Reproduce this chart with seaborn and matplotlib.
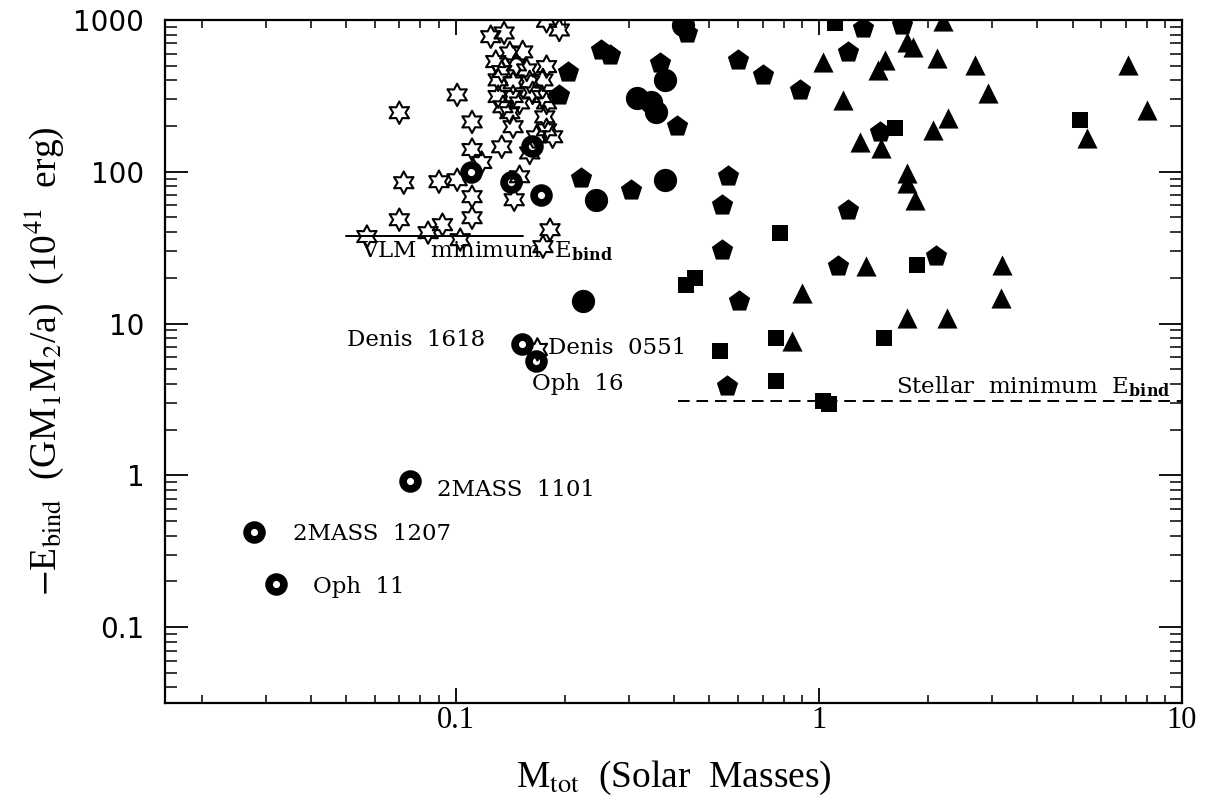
import matplotlib
matplotlib.use("Agg")
import matplotlib.pyplot as plt
from matplotlib.path import Path
from matplotlib.ticker import FixedLocator, FixedFormatter, LogLocator, NullFormatter
import seaborn as sns

# Very-low-mass binaries (open stars)
vlm_mass = [0.125, 0.136, 0.178, 0.193, 0.129, 0.141, 0.153, 0.134, 0.147, 0.157,
            0.178, 0.131, 0.144, 0.160, 0.174, 0.131, 0.144, 0.163, 0.173, 0.135,
            0.150, 0.178, 0.141, 0.144, 0.176, 0.178, 0.185, 0.134, 0.167, 0.160,
            0.101, 0.070, 0.111, 0.111, 0.118, 0.072, 0.090, 0.101, 0.111, 0.150,
            0.145, 0.070, 0.111, 0.092, 0.057, 0.084, 0.103, 0.182, 0.174, 0.168]
vlm_ebind = [776, 821, 980, 859, 532, 607, 616, 457, 506, 469,
             493, 403, 385, 391, 403, 313, 313, 331, 313, 268,
             284, 284, 245, 198, 230, 189, 170, 146, 170, 133,
             321, 245, 213, 140, 115, 84.7, 86, 88.6, 68.5, 92.7,
             65.4, 48.3, 49.8, 44.8, 37.4, 39.7, 35.7, 41.5, 32.1, 6.75]

# Young / wide systems (thick open rings)
young_mass = [0.110, 0.142, 0.172, 0.162, 0.152, 0.167, 0.0747, 0.0279, 0.0321]
young_ebind = [100, 86, 70.6, 147, 7.28, 5.65, 0.918, 0.42, 0.192]

# Stellar binaries by sample (filled symbols)
circ_mass = [0.377, 0.315, 0.346, 0.357, 0.377, 0.244, 0.224, 0.422]
circ_ebind = [403, 305, 290, 249, 88.6, 65.4, 14.0, 927]

pent_mass = [0.204, 0.193, 0.252, 0.266, 0.365, 0.433, 0.406, 0.599, 0.703, 0.887,
             1.20, 0.222, 0.305, 0.563, 0.540, 0.540, 1.13, 1.20, 1.32, 1.69,
             1.47, 2.10, 0.602, 0.558]
pent_ebind = [457, 321, 635, 588, 521, 818, 199, 546, 435, 346,
              619, 90.9, 76.1, 93.1, 60.7, 30.7, 23.8, 56.2, 882, 927,
              184, 27.7, 14.0, 3.87]

sq_mass = [1.107, 1.62, 5.24, 1.86, 0.78, 0.457, 0.432, 0.761, 1.513, 0.533,
           0.761, 1.03, 1.07]
sq_ebind = [960, 194, 220, 24.4, 39.6, 20, 18, 8.05, 8.05, 6.57,
            4.17, 3.1, 2.95]

tri_mass = [1.028, 1.166, 2.20, 1.745, 1.82, 1.52, 1.457, 2.11, 2.69, 2.93,
            7.11, 8.0, 2.27, 2.065, 1.297, 1.488, 5.47, 1.745, 1.745, 1.837,
            1.353, 3.19, 0.897, 1.747, 2.25, 3.18, 0.846]
tri_ebind = [532, 298, 980, 720, 667, 546, 469, 560, 506, 330,
             506, 256, 225, 189, 158, 143, 167, 98, 84.3, 65.4,
             23.8, 24.4, 15.9, 10.9, 10.9, 14.8, 7.65]

# Minimum binding-energy reference levels
vlm_min_mass = [0.05, 0.153]
vlm_min_ebind = [38, 38]
stellar_min_mass = [0.41, 10]
stellar_min_ebind = [3.1, 3.1]

# Labelled objects: (name, x, y)
object_labels = [
    ("Denis  1618", 0.0504, 7.73),
    ("Denis  0551", 0.1792, 6.95),
    ("Oph  16", 0.1619, 3.97),
    ("2MASS  1101", 0.0887, 0.796),
    ("2MASS  1207", 0.0356, 0.409),
    ("Oph  11", 0.0404, 0.183),
]

x_ticks = [0.1, 1, 10]
x_tick_labels = ["0.1", "1", "10"]
y_ticks = [0.1, 1, 10, 100, 1000]
y_tick_labels = ["0.1", "1", "10", "100", "1000"]

sns.set_theme(style="ticks")
plt.rcParams["font.family"] = ["DejaVu Serif"]
plt.rcParams["mathtext.fontset"] = "dejavuserif"
plt.rcParams["axes.edgecolor"] = "black"
plt.rcParams["xtick.color"] = "black"
plt.rcParams["ytick.color"] = "black"
plt.rcParams["text.color"] = "black"
plt.rcParams["axes.labelcolor"] = "black"

fig = plt.figure(figsize=(12.25, 7.99), dpi=100)
ax = fig.add_axes([0.1347, 0.1202, 0.8302, 0.8548])
ax.set_xscale("log")
ax.set_yscale("log")

hexstar = Path.unit_regular_star(6, 0.55)

sns.scatterplot(x=circ_mass, y=circ_ebind, ax=ax, marker="o", s=280,
                color="black", edgecolor="black", linewidth=0, zorder=3)
sns.scatterplot(x=pent_mass, y=pent_ebind, ax=ax, marker="p", s=260,
                color="black", edgecolor="black", linewidth=0, zorder=3)
sns.scatterplot(x=sq_mass, y=sq_ebind, ax=ax, marker="s", s=144,
                color="black", edgecolor="black", linewidth=0, zorder=3)
sns.scatterplot(x=tri_mass, y=tri_ebind, ax=ax, marker="^", s=210,
                color="black", edgecolor="black", linewidth=0, zorder=3)
sns.scatterplot(x=young_mass, y=young_ebind, ax=ax, marker="o", s=115,
                color="black", facecolors="white", edgecolor="black",
                linewidth=5.5, zorder=4)
sns.scatterplot(x=vlm_mass, y=vlm_ebind, ax=ax, marker=hexstar, s=260,
                color="black", facecolors="none", edgecolor="black",
                linewidth=1.5, zorder=5)

sns.lineplot(x=vlm_min_mass, y=vlm_min_ebind, ax=ax, color="black",
             linewidth=1.4, zorder=2)
sns.lineplot(x=stellar_min_mass, y=stellar_min_ebind, ax=ax, color="black",
             linewidth=1.4, linestyle=(0, (6, 3.5)), zorder=2)

ax.text(0.055, 29.8, r"VLM  minimum  E$_{\mathbf{bind}}$", fontsize=16.5,
        ha="left", va="center", math_fontfamily="dejavuserif")
ax.text(1.63, 3.85, r"Stellar  minimum  E$_{\mathbf{bind}}$", fontsize=16.5,
        ha="left", va="center", math_fontfamily="dejavuserif")
for name, lx, ly in object_labels:
    ax.text(lx, ly, name, fontsize=16.5, ha="left", va="center")

ax.set_xlim(10 ** -1.8, 10)
ax.set_ylim(10 ** -1.5, 1000)

ax.xaxis.set_major_locator(FixedLocator(x_ticks))
ax.xaxis.set_major_formatter(FixedFormatter(x_tick_labels))
ax.yaxis.set_major_locator(FixedLocator(y_ticks))
ax.yaxis.set_major_formatter(FixedFormatter(y_tick_labels))
ax.xaxis.set_minor_locator(LogLocator(base=10, subs=range(2, 10), numticks=20))
ax.yaxis.set_minor_locator(LogLocator(base=10, subs=range(2, 10), numticks=20))
ax.xaxis.set_minor_formatter(NullFormatter())
ax.yaxis.set_minor_formatter(NullFormatter())

ax.tick_params(which="both", direction="in", top=True, right=True, colors="black")
ax.tick_params(axis="x", which="major", length=11, width=1.3, pad=2)
ax.tick_params(axis="x", which="minor", length=6, width=1.1)
ax.tick_params(axis="y", which="major", length=16.5, width=1.3, pad=15)
ax.tick_params(axis="y", which="minor", length=8.5, width=1.1)
for lab in ax.get_xticklabels():
    lab.set_fontfamily("Liberation Serif")
    lab.set_fontsize(22)
for lab in ax.get_yticklabels():
    lab.set_fontfamily("DejaVu Sans")
    lab.set_fontsize(20)
for sp in ax.spines.values():
    sp.set_linewidth(1.6)
    sp.set_color("black")

ax.set_xlabel(r"M$_{\rm tot}$  (Solar  Masses)", fontsize=27,
              fontfamily="Liberation Serif", math_fontfamily="stix")
ax.xaxis.label.set_verticalalignment("baseline")
ax.xaxis.set_label_coords(0.5, -0.123)
ax.set_ylabel(r"$-$E$_{\rm bind}$  (GM$_1$M$_2$/a)  (10$^{41}$  erg)", fontsize=27,
              fontfamily="Liberation Serif", math_fontfamily="stix")
ax.yaxis.label.set_verticalalignment("center")
ax.yaxis.set_label_coords(-0.119, 0.5)

fig.savefig("out.png", dpi=100)
